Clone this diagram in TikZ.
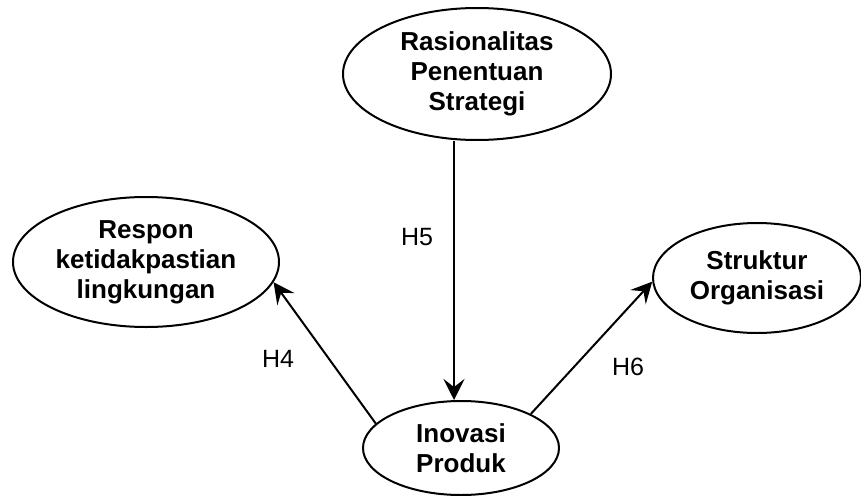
\documentclass[tikz,border=0pt]{standalone}
\usepackage{fontspec}
\setmainfont{Liberation Sans}
\usepackage{tikz}
\usetikzlibrary{arrows.meta,shapes.geometric}

\begin{document}
\begin{tikzpicture}[x=1pt,y=-1pt,
    var/.style={ellipse,draw,line width=2pt,inner sep=0pt,align=center,
      font=\fontsize{26}{30}\selectfont\bfseries},
    hyp/.style={-{Stealth[length=21pt,width=21pt,inset=8pt]},line width=2pt},
    hlab/.style={font=\fontsize{25}{30}\selectfont}]
    \useasboundingbox (0,0) rectangle (861,495);
    % variables
    \node[var,minimum width=268pt,minimum height=132pt] (rps) at (477,74)
      {Rasionalitas\\Penentuan\\Strategi};
    \node[var,minimum width=266pt,minimum height=130pt] (rkl) at (146,262)
      {Respon\\ketidakpastian\\lingkungan};
    \node[var,minimum width=208pt,minimum height=110pt] (so) at (757,278)
      {Struktur\\Organisasi};
    \node[var,minimum width=196pt,minimum height=94pt] (ip) at (461,448)
      {Inovasi\\Produk};
    % hypotheses
    \draw[hyp] ([xshift=-23pt]rps.south) -- ([xshift=-23pt]rps.south |- ip.north);
    \draw[hyp] (ip.164) -- (rkl.-9);
    \draw[hyp] (ip.26) -- (so.182);
    \node[hlab] (h5) at (417,237) {H5};
    \node[hlab] (h4) at (278,359) {H4};
    \node[hlab] (h6) at (628,367) {H6};
  \end{tikzpicture}
\end{document}
